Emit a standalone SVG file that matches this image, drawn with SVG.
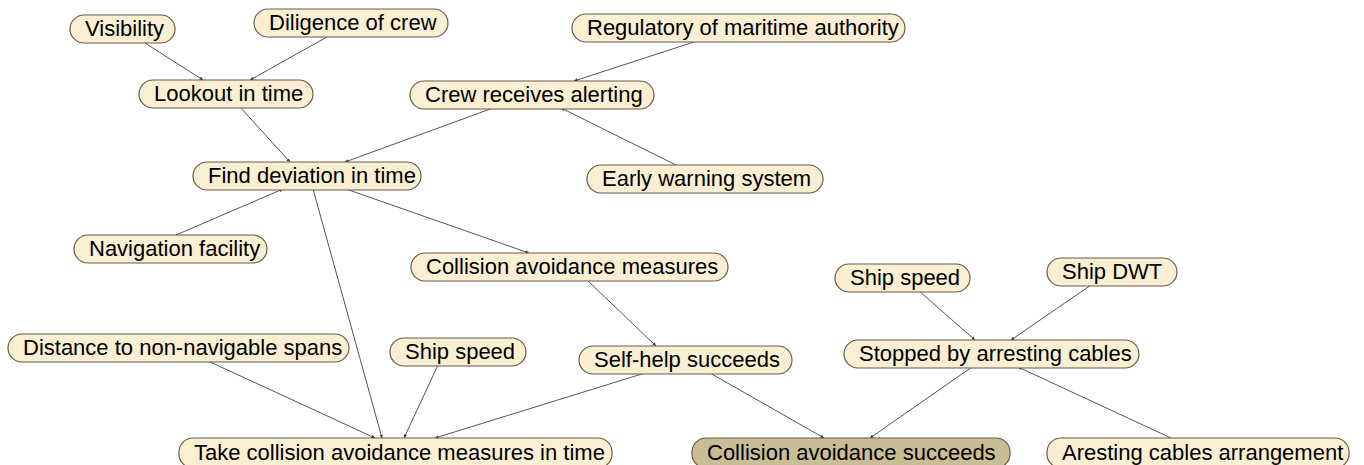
<svg xmlns="http://www.w3.org/2000/svg" width="1364" height="465" viewBox="0 0 1364 465">
<style>
.n rect{fill:#FAEFD3;stroke:#6B5B47;stroke-width:1.2}
.n.dark rect{fill:#C9BD96}
.n text{font-family:"Liberation Sans",Arial,sans-serif;font-size:22px;fill:#000}
.e line{stroke:#555;stroke-width:1;marker-end:url(#ah)}
</style>
<defs>
<marker id="ah" viewBox="0 0 6 6" refX="6" refY="3" markerWidth="3.5" markerHeight="3.5" orient="auto" markerUnits="userSpaceOnUse">
<path d="M0,0 L6,3 L0,6 Z" fill="#333"/>
</marker>
</defs>
<rect width="1364" height="465" fill="#fff"/>
<g id="connectors" class="e">
<line x1="145" y1="43" x2="203" y2="80"/>
<line x1="327" y1="37" x2="250" y2="80"/>
<line x1="240" y1="107" x2="290" y2="162"/>
<line x1="493" y1="108" x2="345" y2="162"/>
<line x1="697" y1="41" x2="574" y2="81"/>
<line x1="676" y1="165" x2="561" y2="108"/>
<line x1="176" y1="235" x2="283" y2="189"/>
<line x1="313" y1="189" x2="382" y2="438"/>
<line x1="346" y1="189" x2="529" y2="253"/>
<line x1="587" y1="280" x2="656" y2="346"/>
<line x1="208" y1="361" x2="375" y2="438"/>
<line x1="438" y1="365" x2="404" y2="438"/>
<line x1="645" y1="373" x2="435" y2="438"/>
<line x1="710" y1="373" x2="824" y2="438"/>
<line x1="972" y1="367" x2="870" y2="438"/>
<line x1="1171" y1="438" x2="1018" y2="367"/>
<line x1="919" y1="291" x2="975" y2="340"/>
<line x1="1091" y1="285" x2="1011" y2="340"/>
</g>
<g id="visibility" class="n"><rect x="70" y="15" width="105" height="28" rx="14"/><text x="85" y="36">Visibility</text></g>
<g id="diligence" class="n"><rect x="254" y="9" width="194" height="28" rx="14"/><text x="269" y="30">Diligence of crew</text></g>
<g id="regulatory" class="n"><rect x="572" y="14" width="333" height="28" rx="14"/><text x="587" y="35">Regulatory of maritime authority</text></g>
<g id="lookout" class="n"><rect x="139" y="80" width="174" height="28" rx="14"/><text x="154" y="101">Lookout in time</text></g>
<g id="crew" class="n"><rect x="410" y="81" width="244" height="28" rx="14"/><text x="425" y="102">Crew receives alerting</text></g>
<g id="find" class="n"><rect x="193" y="162" width="228" height="28" rx="14"/><text x="208" y="183">Find deviation in time</text></g>
<g id="early" class="n"><rect x="587" y="165" width="236" height="28" rx="14"/><text x="602" y="186">Early warning system</text></g>
<g id="navigation" class="n"><rect x="74" y="235" width="193" height="28" rx="14"/><text x="89" y="256">Navigation facility</text></g>
<g id="cam" class="n"><rect x="411" y="253" width="317" height="28" rx="14"/><text x="426" y="274">Collision avoidance measures</text></g>
<g id="speed2" class="n"><rect x="835" y="264" width="135" height="28" rx="14"/><text x="850" y="285">Ship speed</text></g>
<g id="dwt" class="n"><rect x="1047" y="258" width="130" height="28" rx="14"/><text x="1062" y="279">Ship DWT</text></g>
<g id="distance" class="n"><rect x="8" y="334" width="341" height="28" rx="14"/><text x="23" y="355">Distance to non-navigable spans</text></g>
<g id="speed1" class="n"><rect x="390" y="338" width="136" height="28" rx="14"/><text x="405" y="359">Ship speed</text></g>
<g id="selfhelp" class="n"><rect x="579" y="346" width="213" height="28" rx="14"/><text x="594" y="367">Self-help succeeds</text></g>
<g id="stopped" class="n"><rect x="844" y="340" width="295" height="28" rx="14"/><text x="859" y="361">Stopped by arresting cables</text></g>
<g id="take" class="n"><rect x="179" y="438" width="433" height="30" rx="14"/><text x="194" y="460">Take collision avoidance measures in time</text></g>
<g id="cas" class="n dark"><rect x="692" y="438" width="318" height="30" rx="14"/><text x="707" y="460">Collision avoidance succeeds</text></g>
<g id="arrangement" class="n"><rect x="1047" y="438" width="302" height="30" rx="14"/><text x="1062" y="460">Aresting cables arrangement</text></g>
</svg>
